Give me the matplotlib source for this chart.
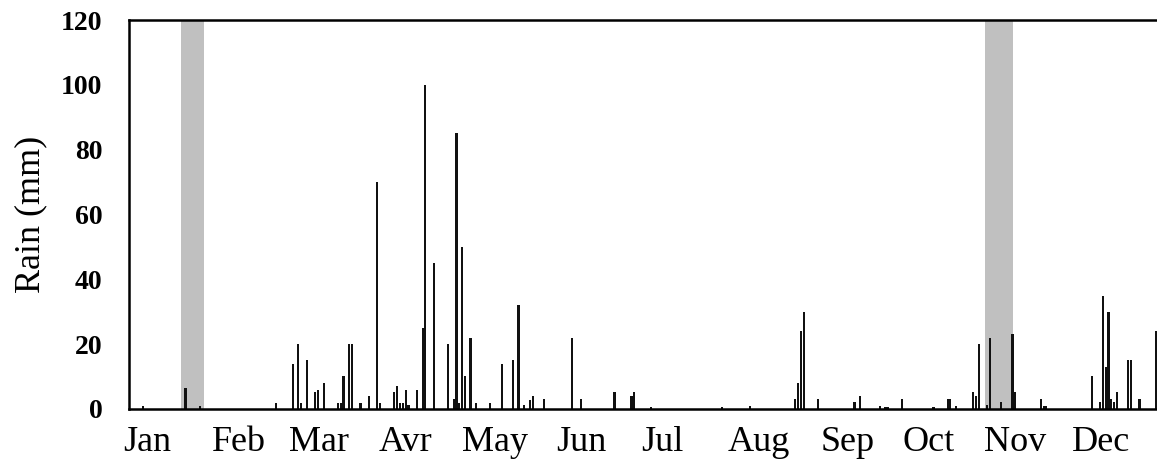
import numpy as np
import matplotlib.pyplot as plt

plt.rcParams['font.family'] = ['Liberation Serif', 'DejaVu Serif']

# daily rain (day of year, mm)
days = [5, 20, 25, 52, 58, 60, 61, 63, 66, 67, 69, 74, 75, 76, 78, 79, 82, 85, 88, 89,
        94, 95, 96, 97, 98, 99, 102, 104, 105, 108, 113, 115, 116, 117, 118, 119, 121, 123, 128, 132,
        136, 138, 140, 142, 143, 147, 157, 160, 172, 178, 179, 185, 210, 220,
        236, 237, 238, 239, 244, 257, 259, 266, 268, 269, 274, 285, 290, 291, 293,
        299, 300, 301, 304, 305, 309, 313, 314, 323, 324, 325,
        341, 344, 345, 346, 347, 348, 349, 350, 354, 355, 358, 364]
rain = [1, 6.5, 0.8, 2, 14, 20, 2, 15, 5.2, 5.9, 8, 2, 2, 10.2, 20, 20, 2, 4, 70, 2,
        5.2, 7, 2, 2, 6, 1.2, 6, 25, 100, 45, 20, 3, 85, 2, 50, 10.2, 22, 2, 2, 14,
        15, 32, 1.2, 2.8, 4, 3, 22, 3, 5.2, 4, 5.2, 0.5, 0.5, 1,
        3, 8, 24, 30, 3, 2.2, 4, 1, 0.7, 0.7, 3, 0.5, 3, 3, 1,
        5.2, 4, 20, 1.2, 22, 2.2, 23, 5.2, 3, 1, 1,
        10.2, 2.2, 35, 13, 30, 3, 2.2, 5.2, 15, 15, 3, 24]

# gray periods (start day, end day)
bands = [(18.5, 26.4), (303.3, 313.0)]

month_pos = [6.3, 39.1, 67.2, 98.0, 129.6, 160.4, 189.1, 223.1, 254.6, 283.2, 313.9, 344.4]
month_lab = ['Jan', 'Feb', 'Mar', 'Avr', 'May', 'Jun', 'Jul', 'Aug', 'Sep', 'Oct', 'Nov', 'Dec']

fig = plt.figure(figsize=(11.57, 4.66), dpi=100)
ax = fig.add_axes([129/1157, 1 - 409/466, 1 - 129/1157 + 0.002, (409 - 20)/466])

for b in bands:
    ax.axvspan(b[0], b[1], color='#c0c0c0', lw=0, zorder=0)

ax.bar(days, rain, width=0.75, color='#111111', zorder=2)

ax.set_xlim(0, 365)
ax.set_ylim(0, 120)
ax.set_yticks(np.arange(0, 121, 20))
ax.set_xticks(month_pos)
ax.set_xticklabels(month_lab)
ax.tick_params(axis='y', length=0, pad=19, labelsize=20)
ax.tick_params(axis='x', length=0, pad=12, labelsize=26)
for t in ax.get_yticklabels():
    t.set_fontweight('bold')
ax.set_ylabel('Rain (mm)', fontsize=26, labelpad=10)

for s in ax.spines.values():
    s.set_linewidth(1.8)

fig.savefig('out.png', dpi=100)
